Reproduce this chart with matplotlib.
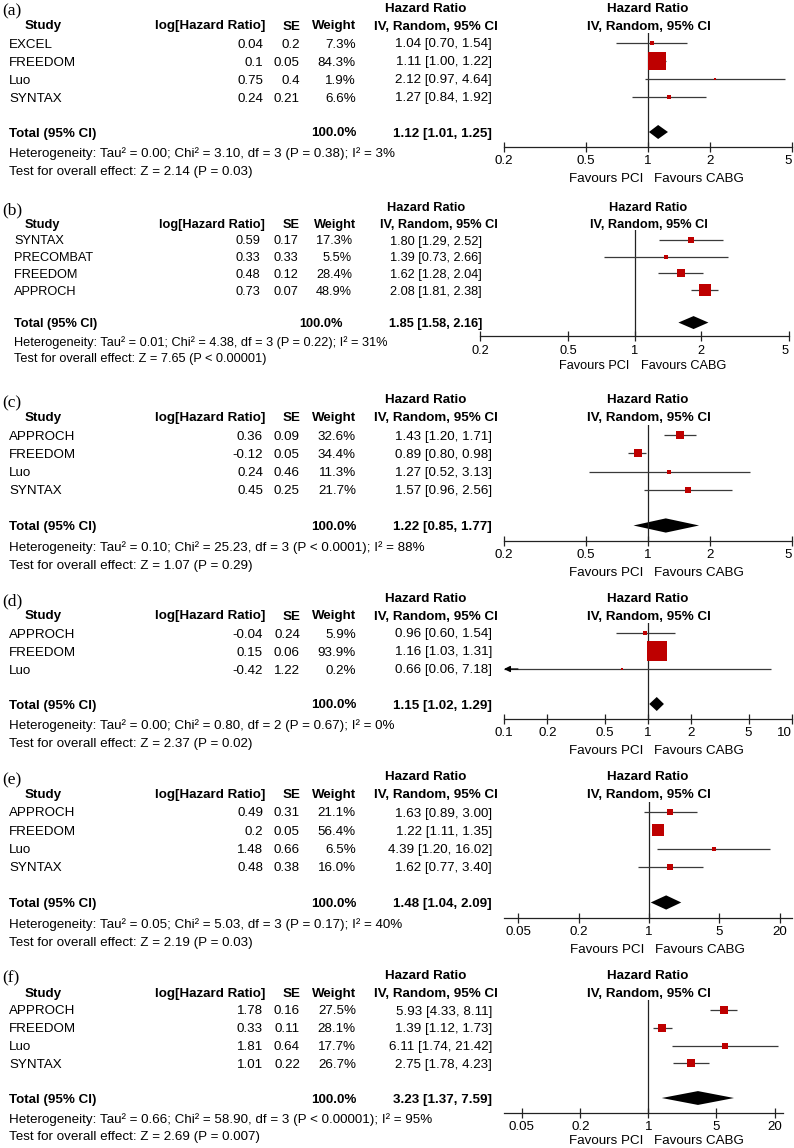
import numpy as np
import matplotlib
matplotlib.use('Agg')
import matplotlib.pyplot as plt
from matplotlib.ticker import NullLocator

plt.rcParams['font.family'] = ['Liberation Sans', 'DejaVu Sans']

# ---- data, one block per panel ----
tags = ['(a)', '(b)', '(c)', '(d)', '(e)', '(f)']

study_a = ['EXCEL', 'FREEDOM', 'Luo', 'SYNTAX']
loghr_a = [0.04, 0.1, 0.75, 0.24]
se_a = [0.2, 0.05, 0.4, 0.21]
weight_a = [7.3, 84.3, 1.9, 6.6]
hr_a = [1.04, 1.11, 2.12, 1.27]
lo_a = [0.70, 1.00, 0.97, 0.84]
hi_a = [1.54, 1.22, 4.64, 1.92]
total_a = [1.12, 1.01, 1.25]
het_a = 'Heterogeneity: Tau² = 0.00; Chi² = 3.10, df = 3 (P = 0.38); I² = 3%'
test_a = 'Test for overall effect: Z = 2.14 (P = 0.03)'

study_b = ['SYNTAX', 'PRECOMBAT', 'FREEDOM', 'APPROCH']
loghr_b = [0.59, 0.33, 0.48, 0.73]
se_b = [0.17, 0.33, 0.12, 0.07]
weight_b = [17.3, 5.5, 28.4, 48.9]
hr_b = [1.80, 1.39, 1.62, 2.08]
lo_b = [1.29, 0.73, 1.28, 1.81]
hi_b = [2.52, 2.66, 2.04, 2.38]
total_b = [1.85, 1.58, 2.16]
het_b = 'Heterogeneity: Tau² = 0.01; Chi² = 4.38, df = 3 (P = 0.22); I² = 31%'
test_b = 'Test for overall effect: Z = 7.65 (P < 0.00001)'

study_c = ['APPROCH', 'FREEDOM', 'Luo', 'SYNTAX']
loghr_c = [0.36, -0.12, 0.24, 0.45]
se_c = [0.09, 0.05, 0.46, 0.25]
weight_c = [32.6, 34.4, 11.3, 21.7]
hr_c = [1.43, 0.89, 1.27, 1.57]
lo_c = [1.20, 0.80, 0.52, 0.96]
hi_c = [1.71, 0.98, 3.13, 2.56]
total_c = [1.22, 0.85, 1.77]
het_c = 'Heterogeneity: Tau² = 0.10; Chi² = 25.23, df = 3 (P < 0.0001); I² = 88%'
test_c = 'Test for overall effect: Z = 1.07 (P = 0.29)'

study_d = ['APPROCH', 'FREEDOM', 'Luo']
loghr_d = [-0.04, 0.15, -0.42]
se_d = [0.24, 0.06, 1.22]
weight_d = [5.9, 93.9, 0.2]
hr_d = [0.96, 1.16, 0.66]
lo_d = [0.60, 1.03, 0.06]
hi_d = [1.54, 1.31, 7.18]
total_d = [1.15, 1.02, 1.29]
het_d = 'Heterogeneity: Tau² = 0.00; Chi² = 0.80, df = 2 (P = 0.67); I² = 0%'
test_d = 'Test for overall effect: Z = 2.37 (P = 0.02)'

study_e = ['APPROCH', 'FREEDOM', 'Luo', 'SYNTAX']
loghr_e = [0.49, 0.2, 1.48, 0.48]
se_e = [0.31, 0.05, 0.66, 0.38]
weight_e = [21.1, 56.4, 6.5, 16.0]
hr_e = [1.63, 1.22, 4.39, 1.62]
lo_e = [0.89, 1.11, 1.20, 0.77]
hi_e = [3.00, 1.35, 16.02, 3.40]
total_e = [1.48, 1.04, 2.09]
het_e = 'Heterogeneity: Tau² = 0.05; Chi² = 5.03, df = 3 (P = 0.17); I² = 40%'
test_e = 'Test for overall effect: Z = 2.19 (P = 0.03)'

study_f = ['APPROCH', 'FREEDOM', 'Luo', 'SYNTAX']
loghr_f = [1.78, 0.33, 1.81, 1.01]
se_f = [0.16, 0.11, 0.64, 0.22]
weight_f = [27.5, 28.1, 17.7, 26.7]
hr_f = [5.93, 1.39, 6.11, 2.75]
lo_f = [4.33, 1.12, 1.74, 1.78]
hi_f = [8.11, 1.73, 21.42, 4.23]
total_f = [3.23, 1.37, 7.59]
het_f = 'Heterogeneity: Tau² = 0.66; Chi² = 58.90, df = 3 (P < 0.00001); I² = 95%'
test_f = 'Test for overall effect: Z = 2.69 (P = 0.007)'

ticks_abc = [0.2, 0.5, 1, 2, 5]
ticks_d = [0.1, 0.2, 0.5, 1, 2, 5, 10]
ticks_ef = [0.05, 0.2, 1, 5, 20]

panels = [
    (study_a, loghr_a, se_a, weight_a, hr_a, lo_a, hi_a, total_a, het_a, test_a),
    (study_b, loghr_b, se_b, weight_b, hr_b, lo_b, hi_b, total_b, het_b, test_b),
    (study_c, loghr_c, se_c, weight_c, hr_c, lo_c, hi_c, total_c, het_c, test_c),
    (study_d, loghr_d, se_d, weight_d, hr_d, lo_d, hi_d, total_d, het_d, test_d),
    (study_e, loghr_e, se_e, weight_e, hr_e, lo_e, hi_e, total_e, het_e, test_e),
    (study_f, loghr_f, se_f, weight_f, hr_f, lo_f, hi_f, total_f, het_f, test_f),
]
panel_ticks = [ticks_abc, ticks_abc, ticks_abc, ticks_d, ticks_ef, ticks_ef]

# ---- layout (pixels) ----
W, H = 794, 1148
row1 = [43, 240, 435, 633, 812, 1010]
row_gap = [18, 16.7, 18.3, 18, 18.3, 17.8]
plot_x = [(504, 792), (480, 789), (504, 792), (504, 792), (504, 792), (504, 783)]
xlims = [(0.2, 5), (0.2, 5), (0.2, 5), (0.1, 10), (0.0363, 26.3), (0.0327, 24.2)]
cols_default = dict(name=9, log=263, se=300, w=356, wt=356, hr=492, size=9.6)
cols_b = dict(name=14, log=260, se=298, w=352, wt=343, hr=482, size=9.2)

RED = '#BE0000'
LINE = '#3a3a3a'

fig = plt.figure(figsize=(W / 100, H / 100), dpi=100)


def put(x, y, s, ha='left', bold=False, size=9.6, family=None):
    kw = {}
    if family is not None:
        kw['family'] = family
    # small downward nudge so the visual centre sits on the row
    fig.text(x / W, 1 - (y + 1.5) / H, s, ha=ha, va='center', fontsize=size,
             fontweight='bold' if bold else 'normal', **kw)


for i, (study, loghr, se, wt, hr, lo, hi, tot, het, test) in enumerate(panels):
    c = cols_b if i == 1 else cols_default
    fs = c['size']
    f = row_gap[i] / 18.0
    r1 = row1[i]
    ys = [r1 + k * row_gap[i] for k in range(len(study))]
    y_tot = ys[-1] + 35 * f
    y_axis = y_tot + 15 * f
    y_top = r1 - 10

    # headers
    put(2, r1 - 33 * f, tags[i], size=12.5, family='Liberation Serif')
    put(25, r1 - 18 * f, 'Study', bold=True, size=fs)
    put(265, r1 - 18 * f, 'log[Hazard Ratio]', ha='right', bold=True, size=fs)
    put(300, r1 - 18 * f, 'SE', ha='right', bold=True, size=fs)
    put(356, r1 - 18 * f, 'Weight', ha='right', bold=True, size=fs)
    put(426, r1 - 36 * f, 'Hazard Ratio', ha='center', bold=True, size=fs)
    put(498, r1 - 18 * f, 'IV, Random, 95% CI', ha='right', bold=True, size=fs)
    put(648, r1 - 36 * f, 'Hazard Ratio', ha='center', bold=True, size=fs)
    put(649, r1 - 18 * f, 'IV, Random, 95% CI', ha='center', bold=True, size=fs)

    # study rows
    for k, y in enumerate(ys):
        put(c['name'], y, study[k], size=fs)
        put(c['log'], y, str(loghr[k]), ha='right', size=fs)
        put(c['se'], y, str(se[k]), ha='right', size=fs)
        put(c['w'], y, f'{wt[k]:.1f}%', ha='right', size=fs)
        put(c['hr'], y, f'{hr[k]:.2f} [{lo[k]:.2f}, {hi[k]:.2f}]', ha='right', size=fs)

    put(c['name'], y_tot, 'Total (95% CI)', bold=True, size=fs)
    put(c['wt'], y_tot, '100.0%', ha='right', bold=True, size=fs)
    put(c['hr'], y_tot, f'{tot[0]:.2f} [{tot[1]:.2f}, {tot[2]:.2f}]', ha='right', bold=True, size=fs)
    put(c['name'], y_tot + 20 * f, het, size=fs)
    put(c['name'], y_tot + 38 * f, test, size=fs)

    # forest plot axes, y in pixel units
    x0, x1 = plot_x[i]
    ax = fig.add_axes([x0 / W, 1 - y_axis / H, (x1 - x0) / W, (y_axis - y_top) / H])
    ax.set_xscale('log')
    xmin, xmax = xlims[i]
    ax.set_xlim(xmin, xmax)
    ax.set_ylim(y_axis, y_top)
    ax.patch.set_visible(False)
    for s in ['top', 'left', 'right']:
        ax.spines[s].set_visible(False)
    ax.spines['bottom'].set_linewidth(0.9)
    ax.spines['bottom'].set_color('#222222')
    ax.set_yticks([])
    ax.xaxis.set_minor_locator(NullLocator())
    ax.set_xticks(panel_ticks[i])
    labels = ax.set_xticklabels([f'{t:g}' for t in panel_ticks[i]])
    if panel_ticks[i][-1] >= xmax * 0.99:
        labels[-1].set_horizontalalignment('right')
    ax.tick_params(axis='x', direction='inout', length=7, width=0.9,
                   pad=2.6, labelsize=fs, color='#222222')
    ax.axvline(1, color='#222222', lw=0.9)

    for k, y in enumerate(ys):
        left = max(lo[k], xmin)
        ax.plot([left, hi[k]], [y, y], color=LINE, lw=0.9, solid_capstyle='butt')
        if lo[k] < xmin:
            ax.annotate('', xy=(xmin, y), xytext=(xmin * 1.25, y),
                        arrowprops=dict(arrowstyle='-|>', color='black', lw=0.9,
                                        mutation_scale=9, shrinkA=0, shrinkB=0),
                        annotation_clip=False)
        side = 2 + 0.19 * wt[k]
        ax.plot(hr[k], y, 's', ms=side * 0.72, color=RED, mew=0)

    ax.fill([tot[1], tot[0], tot[2], tot[0]],
            [y_tot, y_tot - 7 * f, y_tot, y_tot + 7 * f], color='black', lw=0)

    y_fav = min(y_axis + 32 * f, H - 7)
    ax.annotate('Favours PCI', xy=(1, y_fav), xytext=(-5, 0), textcoords='offset pixels',
                ha='right', va='center', fontsize=fs, annotation_clip=False)
    ax.annotate('Favours CABG', xy=(1, y_fav), xytext=(6, 0), textcoords='offset pixels',
                ha='left', va='center', fontsize=fs, annotation_clip=False)

fig.savefig('out.png', dpi=100)
